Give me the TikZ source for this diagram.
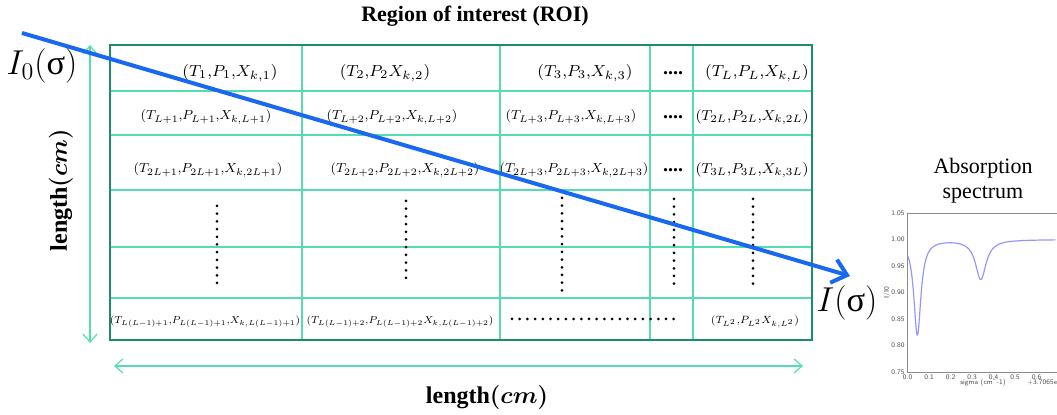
\documentclass[tikz,border=0pt]{standalone}
\usepackage{fontspec}
\setmainfont{Liberation Serif}
\usepackage{amsmath,amssymb}
\usepackage{tikz}
\usetikzlibrary{arrows.meta,positioning}
\definecolor{gridgreen}{RGB}{85,221,178}
\definecolor{framegreen}{RGB}{30,140,100}
\definecolor{beamblue}{RGB}{25,105,240}
\definecolor{specblue}{RGB}{150,150,255}

\begin{document}
\begin{tikzpicture}[x=0.5pt, y=-0.5pt,
    cell/.style={font=\footnotesize, inner sep=1pt, transform shape},
    gridline/.style={draw=gridgreen, line width=0.6pt},
    frame/.style={draw=framegreen, line width=1.4pt},
    dimarr/.style={{Straight Barb[length=4pt,width=7pt]}-{Straight Barb[length=4pt,width=7pt]},
                   gridgreen, line width=0.6pt},
    beam/.style={-{Straight Barb[length=7pt,width=12pt]}, beamblue, line width=2pt},
    dotcol/.style={line width=1.5pt, line cap=round, dash pattern=on 0pt off 3.85pt},
    hdots/.style={font=\bfseries, inner sep=0pt},
    tick/.style={font=\sffamily\fontsize{3.5}{4}\selectfont, inner sep=0.5pt, text=black!70}]
    \useasboundingbox (0,0) rectangle (1057,415);

    % table of the region
    \foreach \x in {302,500,650,693} \draw[gridline] (\x,45) -- (\x,340);
    \foreach \y in {91,135,190,247,298} \draw[gridline] (110,\y) -- (812,\y);
    \draw[frame] (110,45) rectangle (812,340);

    \node[font=\fontsize{11}{13}\selectfont\bfseries] (title) at (475,16) {Region of interest (ROI)};

    \node[cell] (c11) at (230,73) {$(T_1{,}P_1{,}X_{k,1})$};
    \node[cell] (c12) at (385,73) {$(T_2{,}P_2X_{k,2})$};
    \node[cell] (c13) at (585,73) {$(T_3{,}P_3{,}X_{k,3})$};
    \node[cell] (c15) at (757,73) {$(T_L{,}P_L{,}X_{k,L})$};
    \node[cell, scale=0.82] (c21) at (206,117) {$(T_{L+1}{,}P_{L+1}{,}X_{k,L+1})$};
    \node[cell, scale=0.82] (c22) at (392,117) {$(T_{L+2}{,}P_{L+2}{,}X_{k,L+2})$};
    \node[cell, scale=0.82] (c23) at (571,117) {$(T_{L+3}{,}P_{L+3}{,}X_{k,L+3})$};
    \node[cell, scale=0.9] (c25) at (752,117) {$(T_{2L}{,}P_{2L}{,}X_{k,2L})$};
    \node[cell, scale=0.82] (c31) at (208,170) {$(T_{2L+1}{,}P_{2L+1}{,}X_{k,2L+1})$};
    \node[cell, scale=0.82] (c32) at (405,170) {$(T_{2L+2}{,}P_{2L+2}{,}X_{k,2L+2})$};
    \node[cell, scale=0.82] (c33) at (574,170) {$(T_{2L+3}{,}P_{2L+3}{,}X_{k,2L+3})$};
    \node[cell, scale=0.9] (c35) at (752,170) {$(T_{3L}{,}P_{3L}{,}X_{k,3L})$};
    \node[cell, font=\scriptsize, scale=0.72] (c61) at (205,322) {$(T_{L(L-1)+1}{,}P_{L(L-1)+1}{,}X_{k,L(L-1)+1})$};
    \node[cell, font=\scriptsize, scale=0.72] (c62) at (400,322) {$(T_{L(L-1)+2}{,}P_{L(L-1)+2}X_{k,L(L-1)+2})$};
    \node[cell, font=\scriptsize, scale=0.75] (c65) at (755,322) {$(T_{L^2}{,}P_{L^2}X_{k,L^2})$};

    \foreach \y/\n in {73/1,117/2,170/3} \node[hdots] (d\n) at (673,\y) {....};
    \foreach \x/\a/\b in {217/206/283, 406/201/283, 562/198/291, 674/199/291, 753/199/291}
        \draw[dotcol] (\x,\a) -- (\x,\b);
    \draw[dotcol] (512,319) -- (676,319);

    % dimensions
    \coordinate (vtop) at (90,45);
    \coordinate (vbot) at (90,343);
    \coordinate (hl) at (114,366);
    \coordinate (hr) at (803,366);
    \draw[dimarr] (vtop) -- (vbot);
    \draw[dimarr] (hl) -- (hr);
    \node[font=\large\bfseries\boldmath, rotate=90] (lenv) at (61,190) {length$(cm)$};
    \node[font=\large\bfseries\boldmath] (lenh) at (487,398) {length$(cm)$};

    % spectrum
    \node[align=center, font=\fontsize{11}{12.5}\selectfont] (spectitle) at (983,181) {Absorption\\spectrum};
    \draw[black!45, line width=0.3pt] (1057,213) -- (907.7,213) -- (907.7,372) -- (1057,372);
    \foreach \t [count=\k from 0] in {1.05,1.00,0.95,0.90,0.85,0.80,0.75}
        \node[tick, anchor=east] at (906,{213+26.5*\k}) {\t};
    \foreach \i in {0,...,6}
        \node[tick, anchor=north] at ({907.7+21.5*\i},373) {0.\i};
    \node[tick] (sigx) at (983,383) {sigma (cm\textasciicircum-1)};
    \node[tick, anchor=west] (offx) at (1026,383) {+3.7065e};
    \node[tick, rotate=90] (ylab) at (887,293) {I/I0};
    \draw[specblue, line width=0.6pt] plot[domain=0:0.69, samples=220, smooth]
        ({907.7+215*\x}, {213+530*(0.05+0.18/(1+((\x-0.045)/0.02)^2)+0.075/(1+((\x-0.34)/0.03)^2))});

    % beam through the region
    \coordinate (src) at (22,33);
    \coordinate (dst) at (850,276);
    \draw[beam] (src) -- (dst);
    \node[font=\LARGE] (inlbl) at (42,66) {$I_0(\text{σ})$};
    \node[font=\LARGE] (outlbl) at (847,303) {$I(\text{σ})$};
\end{tikzpicture}
\end{document}
